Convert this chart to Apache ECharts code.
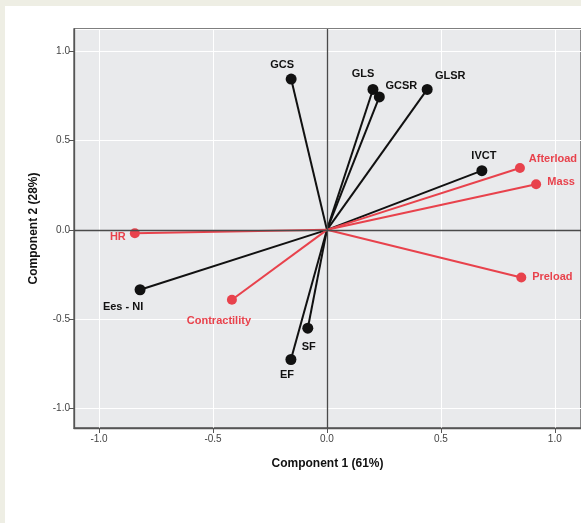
<!DOCTYPE html>
<html>
<head>
<meta charset="utf-8">
<style>
html,body{margin:0;padding:0;background:#fff;}
#wrap{position:absolute;left:0;top:0;width:581px;height:523px;background:#eeeee4;}
#chart{position:absolute;left:5px;top:6px;width:576px;height:517px;background:#fff;}
</style>
<script src="https://cdn.jsdelivr.net/npm/echarts@6/dist/echarts.min.js"></script>
</head>
<body>
<div id="wrap"><div id="chart"></div></div>
<script>
// Variable names, loadings on component 1 and component 2, and group (0 = black, 1 = red)
const names  = ['GCS', 'GLS', 'GCSR', 'GLSR', 'IVCT', 'Afterload', 'Mass', 'Preload', 'HR', 'Ees - NI', 'Contractility', 'SF', 'EF'];
const comp1  = [-0.157, 0.202, 0.230, 0.440, 0.680, 0.847, 0.918, 0.853, -0.843, -0.820, -0.417, -0.084, -0.158];
const comp2  = [ 0.843, 0.785, 0.743, 0.785, 0.331, 0.346, 0.255, -0.266, -0.019, -0.335, -0.391, -0.550, -0.725];
const group  = [0, 0, 0, 0, 0, 1, 1, 1, 1, 0, 1, 0, 0];
const xTitle = 'Component 1 (61%)';
const yTitle = 'Component 2 (28%)';

// label placement (layout only)
const labelOffset = [
  [-9, -14], [-10, -15], [22, -11], [23, -13], [2, -15], [33, -9], [25, -2], [31, 0],
  [-17, 4], [-17, 17], [-13, 21], [1, 19], [-4, 15]
];

const colors = ['#111111', '#e8424c'];

const chart = echarts.init(document.getElementById('chart'), null, {renderer: 'canvas'});

const series = names.map((n, i) => ({
  type: 'line',
  name: n,
  z: group[i] ? 3 : 2,
  silent: true,
  animation: false,
  symbol: 'circle',
  showAllSymbol: true,
  symbolSize: (v, p) => p.dataIndex === 1 ? (group[i] ? 10 : 11) : 0,
  lineStyle: {color: colors[group[i]], width: 2},
  itemStyle: {color: colors[group[i]]},
  data: [
    [0, 0],
    {
      value: [comp1[i], comp2[i]],
      label: {
        show: true,
        formatter: n,
        position: 'inside',
        offset: labelOffset[i],
        color: colors[group[i]],
        fontFamily: 'Liberation Sans, Arial, sans-serif',
        fontWeight: 'bold',
        fontSize: 11
      }
    }
  ]
}));

// zero reference lines
series.push({
  type: 'line',
  data: [],
  silent: true,
  z: 1,
  markLine: {
    silent: true,
    symbol: 'none',
    animation: false,
    label: {show: false},
    lineStyle: {color: '#4a4a4a', width: 1.3, type: 'solid'},
    data: [{xAxis: 0}, {yAxis: 0}]
  }
});

chart.setOption({
  animation: false,
  grid: {
    left: 69, top: 23, right: 0, bottom: 95,
    show: true,
    backgroundColor: '#e9eaec',
    borderColor: '#555',
    borderWidth: 1.3
  },
  xAxis: {
    type: 'value',
    min: -1.11, max: 1.115,
    splitNumber: 5,
    name: xTitle,
    nameLocation: 'middle',
    nameGap: 30,
    nameTextStyle: {fontFamily: 'Liberation Sans, Arial, sans-serif', fontWeight: 'bold', fontSize: 12, color: '#111'},
    axisLine: {show: true, onZero: false, lineStyle: {color: '#555', width: 1.3}},
    axisTick: {show: true, inside: false, length: 5, lineStyle: {color: '#555'}},
    axisLabel: {showMinLabel: false, showMaxLabel: false, color: '#444', fontSize: 10, fontFamily: 'Liberation Sans, Arial, sans-serif', margin: 6, formatter: v => v.toFixed(1)},
    splitLine: {show: true, lineStyle: {color: '#ffffff', width: 1}}
  },
  yAxis: {
    type: 'value',
    min: -1.108, max: 1.123,
    splitNumber: 5,
    name: yTitle,
    nameLocation: 'middle',
    nameGap: 34,
    nameTextStyle: {fontFamily: 'Liberation Sans, Arial, sans-serif', fontWeight: 'bold', fontSize: 12, color: '#111'},
    axisLine: {show: true, onZero: false, lineStyle: {color: '#555', width: 1.3}},
    axisTick: {show: true, inside: false, length: 5, lineStyle: {color: '#555'}},
    axisLabel: {showMinLabel: false, showMaxLabel: false, color: '#444', fontSize: 10, fontFamily: 'Liberation Sans, Arial, sans-serif', margin: 4, formatter: v => v.toFixed(1)},
    splitLine: {show: true, lineStyle: {color: '#ffffff', width: 1}}
  },
  series: series
});
</script>
</body>
</html>
